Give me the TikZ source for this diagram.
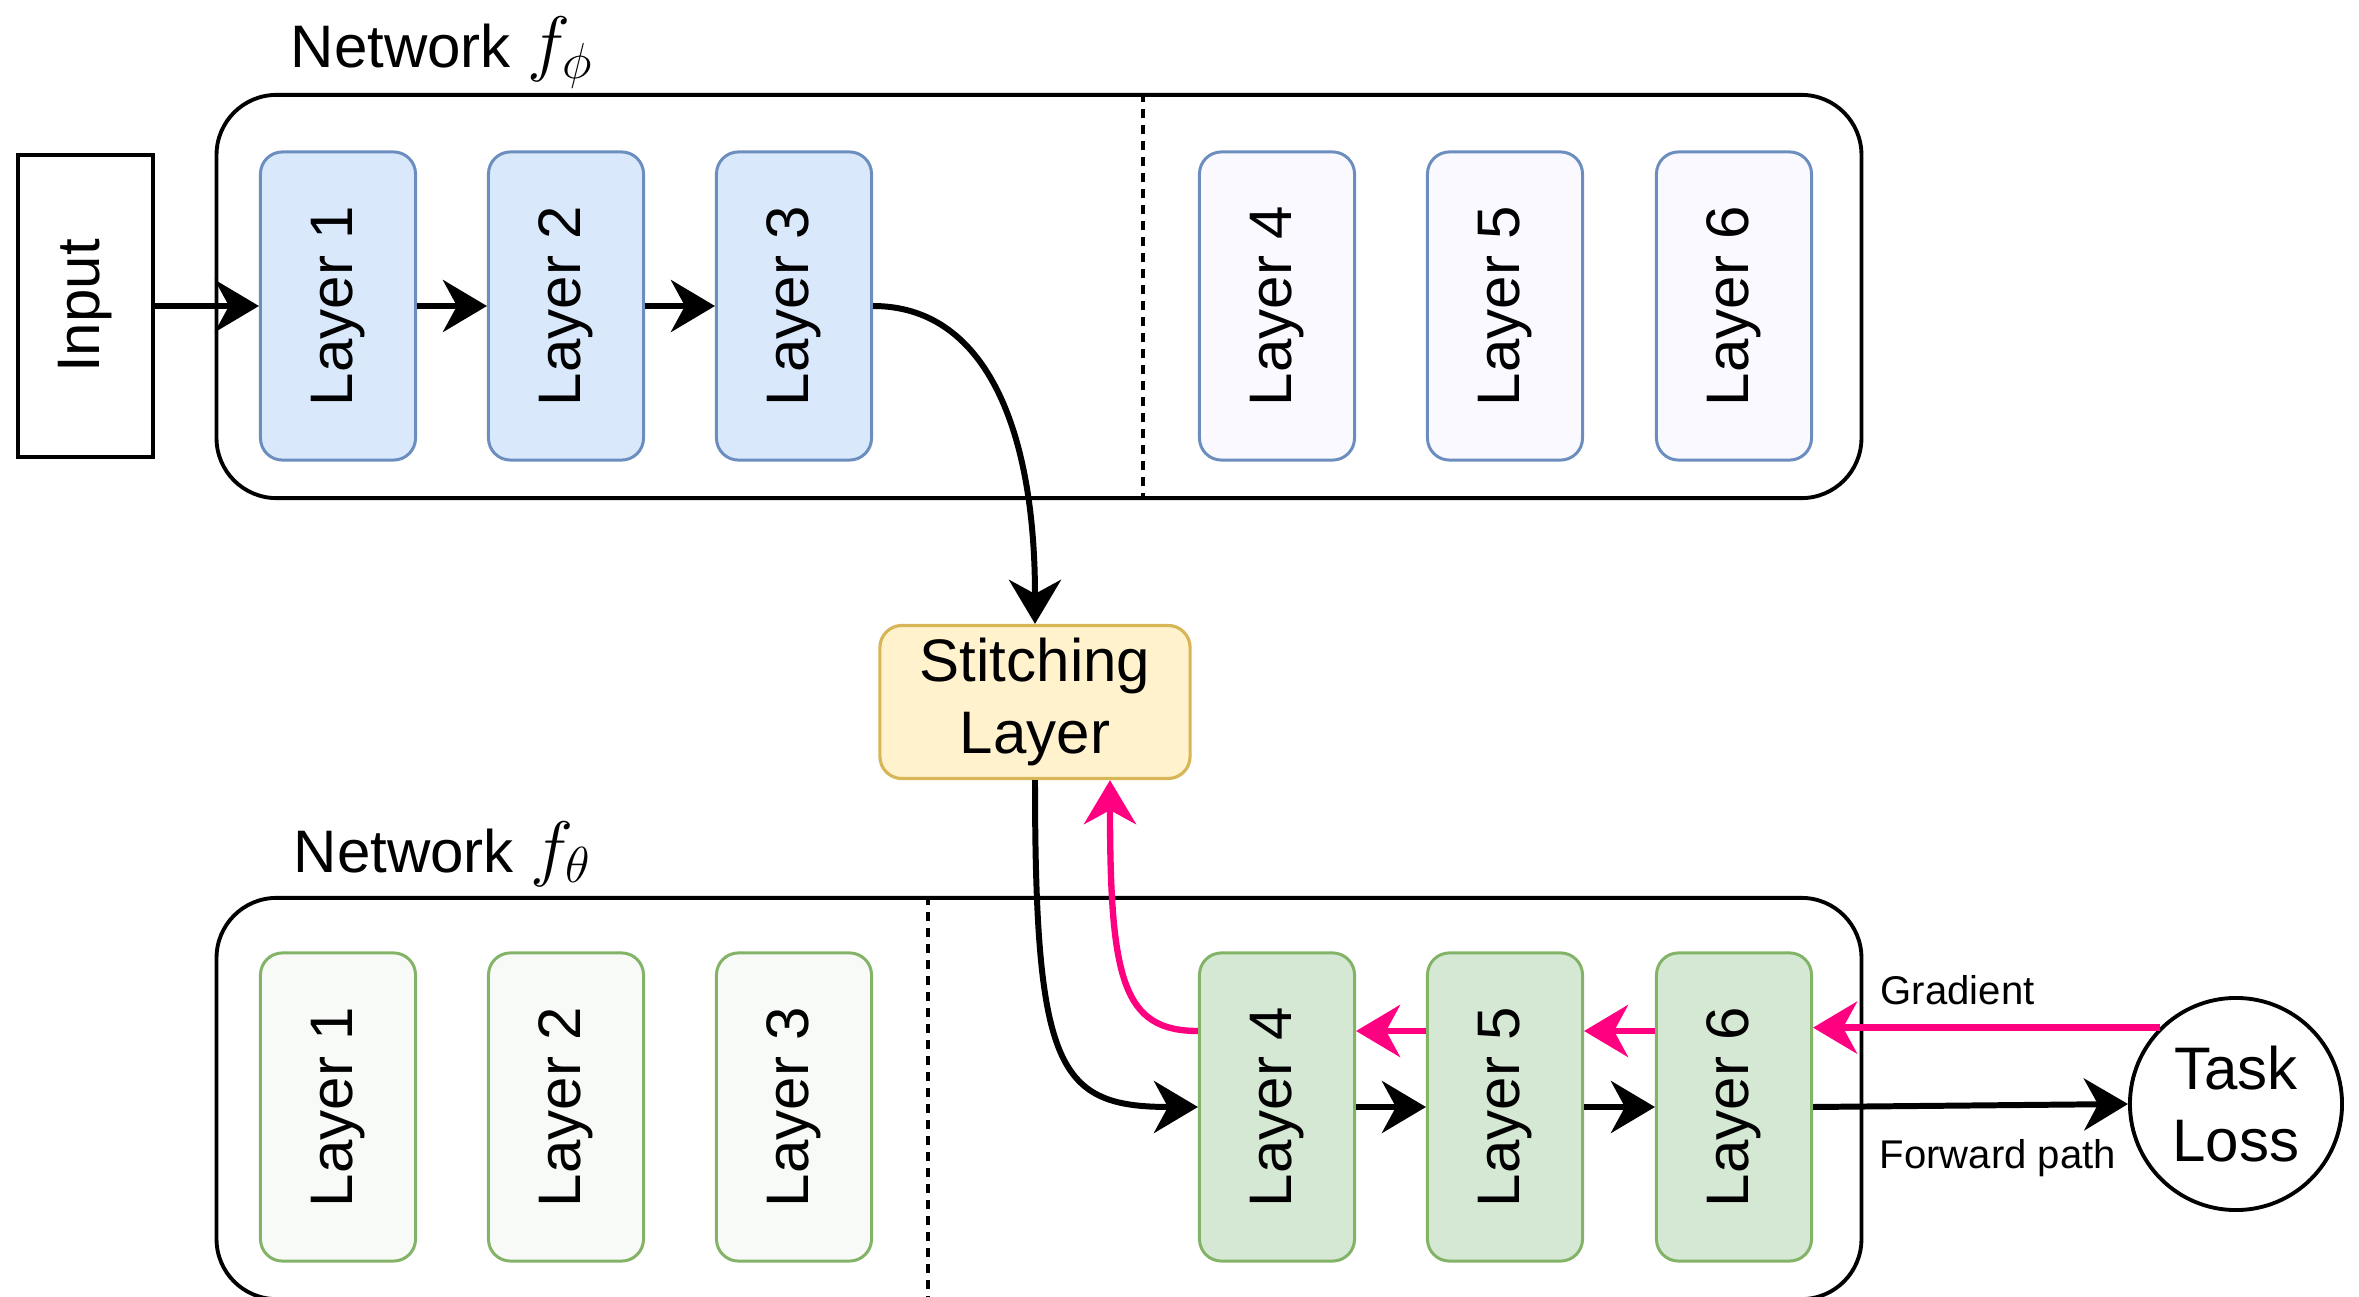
\documentclass[tikz,border=0pt]{standalone}
\usepackage{fontspec}
\setmainfont{Liberation Sans}
\usetikzlibrary{arrows.meta,calc}
\definecolor{blueF}{HTML}{DAE8FC}
\definecolor{blueD}{HTML}{6C8EBF}
\definecolor{paleBlue}{HTML}{F9F9FF}
\definecolor{greenF}{HTML}{D5E8D4}
\definecolor{greenD}{HTML}{82B366}
\definecolor{paleGreen}{HTML}{F8FAF7}
\definecolor{yelF}{HTML}{FFF2CC}
\definecolor{yelD}{HTML}{D6B656}
\definecolor{gradpink}{HTML}{FF0080}
\tikzset{
  bigfont/.style={font=\fontsize{17.07pt}{20.5pt}\selectfont},
  container/.style={draw=black, line width=1.1pt, rounded corners=0.6cm, minimum width=16.44cm, inner sep=0pt},
  layerbox/.style={rotate=90, rounded corners=0.22cm, line width=0.85pt, minimum width=3.08cm, minimum height=1.55cm, inner sep=0pt, bigfont},
  blueL/.style={layerbox, draw=blueD, fill=blueF},
  paleBL/.style={layerbox, draw=blueD, fill=paleBlue},
  greenL/.style={layerbox, draw=greenD, fill=greenF},
  paleGL/.style={layerbox, draw=greenD, fill=paleGreen},
  fwd/.style={line width=1.7pt, -{Stealth[length=0.44cm,width=0.52cm,inset=0.14cm]}},
  grad/.style={line width=1.8pt, draw=gradpink, -{Stealth[length=0.44cm,width=0.52cm,inset=0.14cm]}, color=gradpink},
  divider/.style={line width=1pt, dash pattern=on 0.09cm off 0.07cm},
  smallfont/.style={font=\fontsize{11.4pt}{13.7pt}\selectfont}
}
\newcommand{\bigmath}[1]{{\fontsize{20.5pt}{24pt}\selectfont$#1$}}
\begin{document}
\begin{tikzpicture}[x=0.01cm, y=-0.01cm]
\useasboundingbox (0,0) rectangle (2359,1297);
% containers
\node[container, minimum height=4.03cm] (netA) at (1039,296.5) {};
\node[container, minimum height=4.01cm] (netB) at (1039,1098.5) {};
\coordinate (dA) at (1143,0);
\coordinate (dB) at (928,0);
\draw[divider] (netA.north -| dA) -- (netA.south -| dA);
\draw[divider] (netB.north -| dB) -- (netB.south -| dB);
% titles
\node[bigfont, anchor=base west, inner sep=0pt] (titleA) at (290,68) {Network \bigmath{f_{\phi}}};
\node[bigfont, anchor=base west, inner sep=0pt] (titleB) at (293,872) {Network \bigmath{f_{\theta}}};
% input
\node[rotate=90, draw=black, line width=1.2pt, minimum width=3.02cm, minimum height=1.35cm, inner sep=0pt, bigfont] (input) at (85.5,306) {Input};
% top layers
\node[blueL] (a1) at (338,306) {Layer 1};
\node[blueL] (a2) at (566,306) {Layer 2};
\node[blueL] (a3) at (794,306) {Layer 3};
\node[paleBL] (a4) at (1277,306) {Layer 4};
\node[paleBL] (a5) at (1505,306) {Layer 5};
\node[paleBL] (a6) at (1734,306) {Layer 6};
% bottom layers
\node[paleGL] (b1) at (338,1107) {Layer 1};
\node[paleGL] (b2) at (566,1107) {Layer 2};
\node[paleGL] (b3) at (794,1107) {Layer 3};
\node[greenL] (b4) at (1277,1107) {Layer 4};
\node[greenL] (b5) at (1505,1107) {Layer 5};
\node[greenL] (b6) at (1734,1107) {Layer 6};
% stitching
\node[draw=yelD, fill=yelF, line width=0.9pt, rounded corners=0.22cm, minimum width=3.1cm, minimum height=1.53cm, inner sep=0pt, align=center, bigfont] (stitch) at (1035,702) {Stitching\\Layer};
% task loss
\node[circle, draw=black, line width=1.1pt, minimum size=2.12cm, inner sep=0pt, align=center, bigfont] (task) at (2236,1104) {Task\\Loss};
% forward path top (south anchor = right side, north anchor = left side for rotated nodes)
\draw[fwd] (input.south) -- (a1.north);
\draw[fwd] (a1.south) -- (a2.north);
\draw[fwd] (a2.south) -- (a3.north);
\draw[fwd] (a3.south) .. controls +(110,0) and +(0,-200) .. (stitch.north);
% forward path bottom
\draw[fwd] (stitch.south) .. controls +(0,290) and +(-140,0) .. (b4.north);
\draw[fwd] (b4.south) -- (b5.north);
\draw[fwd] (b5.south) -- (b6.north);
\draw[fwd] (b6.south) -- (task.west);
% gradient path
\draw[grad] (task.135) -- (b6.south |- task.135);
\draw[grad] ($(b6.north)+(0,-76)$) -- ($(b5.south)+(0,-76)$);
\draw[grad] ($(b5.north)+(0,-76)$) -- ($(b4.south)+(0,-76)$);
\draw[grad] ($(b4.north)+(0,-76)$) .. controls +(-75,0) and +(0,200) .. ($(stitch.south)+(75,0)$);
% labels
\node[smallfont, anchor=base west, inner sep=0pt] (gradlbl) at (1880,1004) {Gradient};
\node[smallfont, anchor=base west, inner sep=0pt] (fwdlbl) at (1879,1168) {Forward path};
\end{tikzpicture}
\end{document}
